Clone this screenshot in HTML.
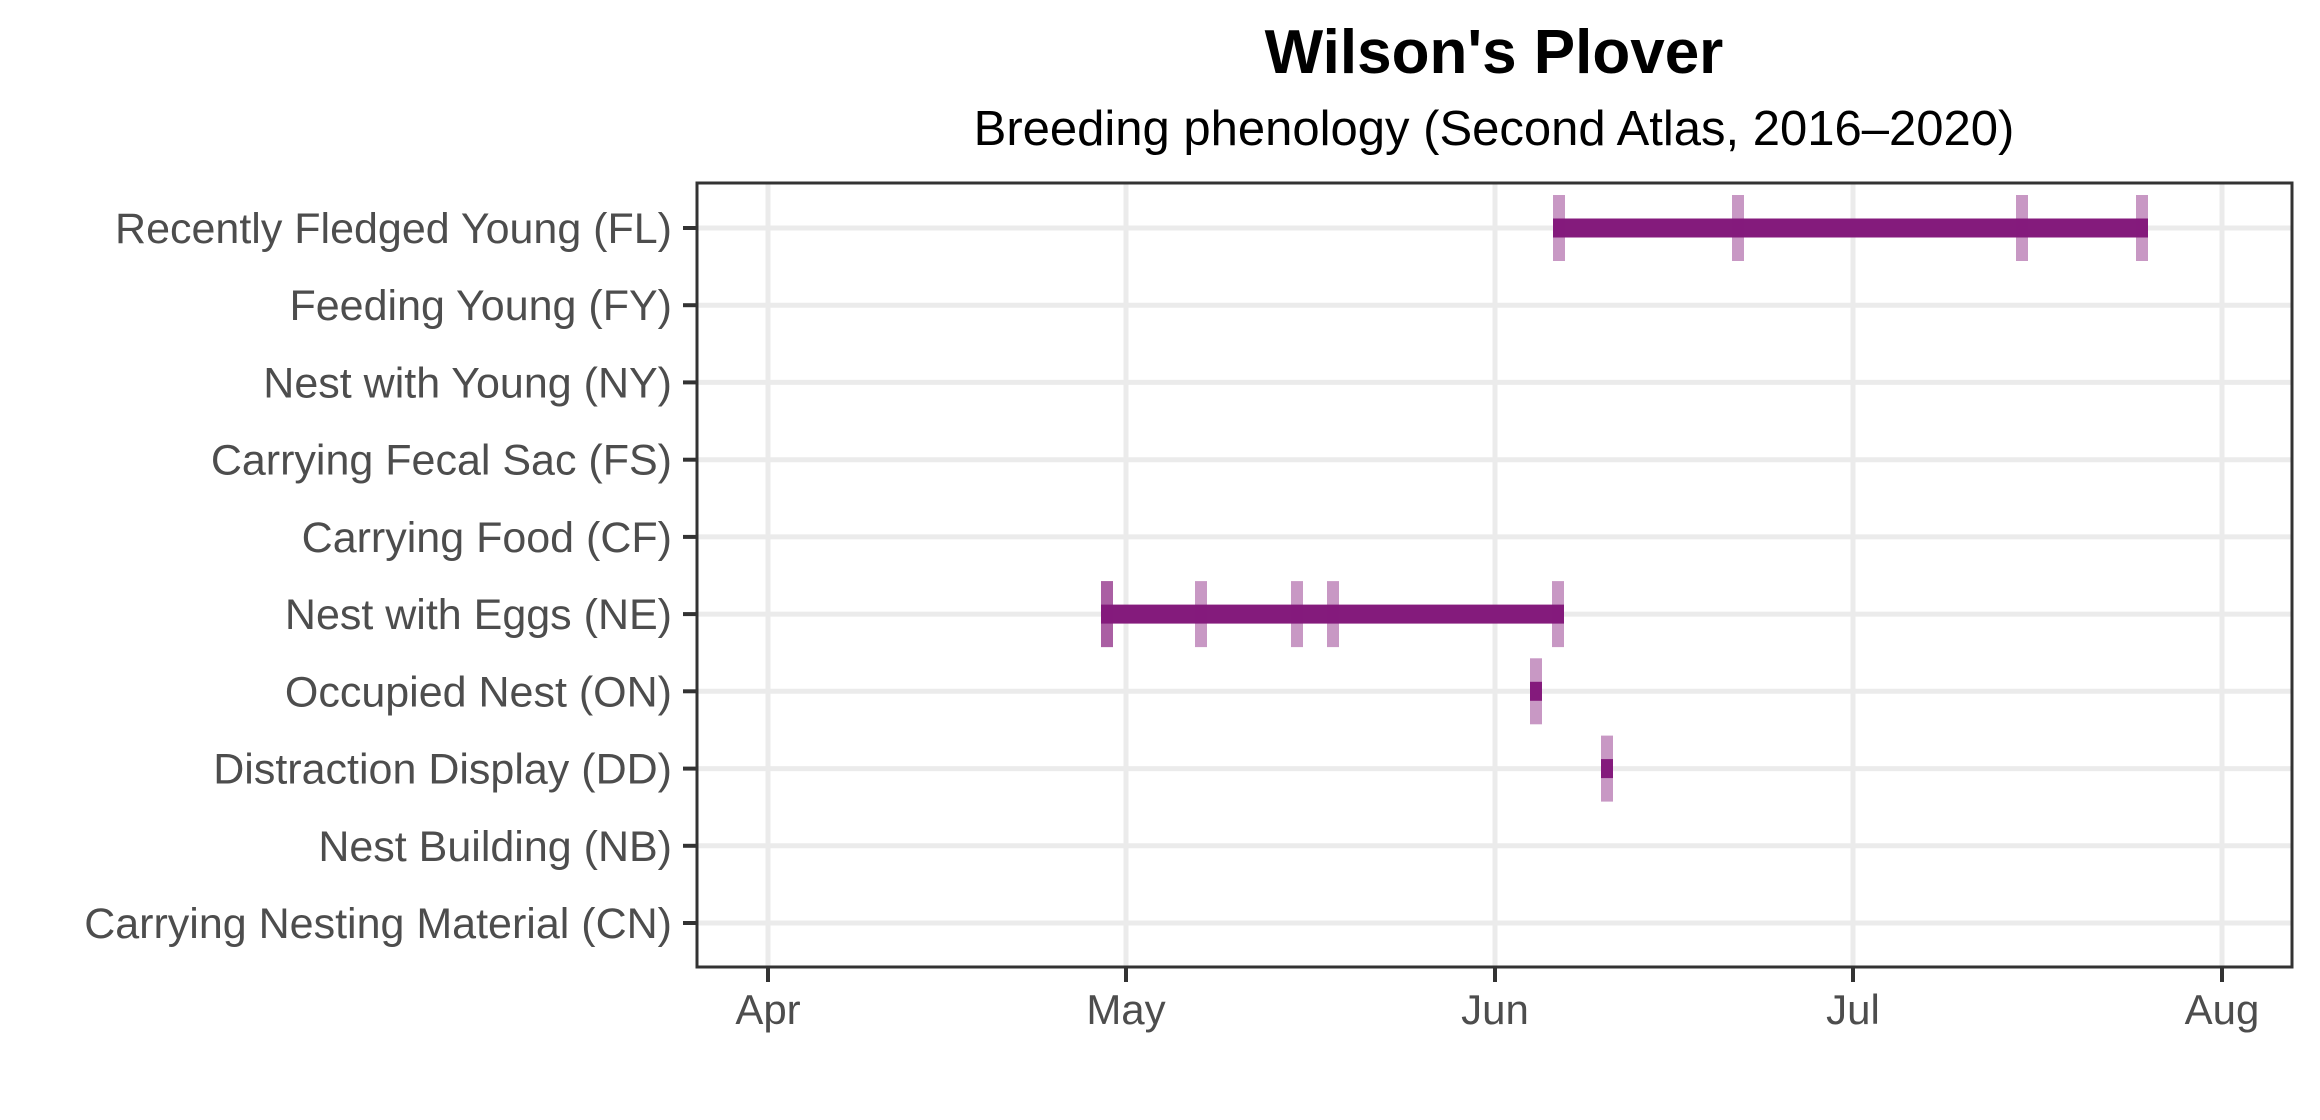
<!DOCTYPE html>
<html><head><meta charset="utf-8"><style>
html,body{margin:0;padding:0;background:#fff;}
svg{display:block;}
text{font-family:"Liberation Sans",Arial,sans-serif;}
</style></head><body>
<svg width="2320" height="1120" viewBox="0 0 2320 1120" xmlns="http://www.w3.org/2000/svg">
<rect width="2320" height="1120" fill="#fff"/>
<text x="1494" y="73" text-anchor="middle" font-size="62" font-weight="bold" fill="#000">Wilson's Plover</text>
<text x="1494" y="145" text-anchor="middle" font-size="49" fill="#000">Breeding phenology (Second Atlas, 2016–2020)</text>
<g stroke="#ebebeb" stroke-width="5">
<line x1="768" y1="183" x2="768" y2="967"/>
<line x1="1126" y1="183" x2="1126" y2="967"/>
<line x1="1495" y1="183" x2="1495" y2="967"/>
<line x1="1853" y1="183" x2="1853" y2="967"/>
<line x1="2222" y1="183" x2="2222" y2="967"/>
<line x1="697" y1="228" x2="2292" y2="228"/>
<line x1="697" y1="305.2" x2="2292" y2="305.2"/>
<line x1="697" y1="382.4" x2="2292" y2="382.4"/>
<line x1="697" y1="459.7" x2="2292" y2="459.7"/>
<line x1="697" y1="536.9" x2="2292" y2="536.9"/>
<line x1="697" y1="614.1" x2="2292" y2="614.1"/>
<line x1="697" y1="691.3" x2="2292" y2="691.3"/>
<line x1="697" y1="768.6" x2="2292" y2="768.6"/>
<line x1="697" y1="845.8" x2="2292" y2="845.8"/>
<line x1="697" y1="923" x2="2292" y2="923"/>
</g>
<!-- FL -->
<rect x="1553" y="218.5" width="595" height="19" fill="#841b7c"/>
<g fill="#841b7c" fill-opacity="0.45">
<rect x="1553" y="195" width="12" height="66"/>
<rect x="1732" y="195" width="12" height="66"/>
<rect x="2016" y="195" width="12" height="66"/>
<rect x="2136" y="195" width="12" height="66"/>
</g>
<!-- NE -->
<rect x="1101" y="604.6" width="463" height="19" fill="#841b7c"/>
<g fill="#841b7c" fill-opacity="0.45">
<rect x="1101" y="581.1" width="12" height="66"/>
<rect x="1101" y="581.1" width="12" height="66"/>
<rect x="1195" y="581.1" width="12" height="66"/>
<rect x="1291" y="581.1" width="12" height="66"/>
<rect x="1327" y="581.1" width="12" height="66"/>
<rect x="1552" y="581.1" width="12" height="66"/>
</g>
<!-- ON -->
<rect x="1530" y="681.8" width="12" height="19" fill="#841b7c"/>
<rect x="1530" y="658.3" width="12" height="66" fill="#841b7c" fill-opacity="0.45"/>
<!-- DD -->
<rect x="1601" y="759.1" width="12" height="19" fill="#841b7c"/>
<rect x="1601" y="735.6" width="12" height="66" fill="#841b7c" fill-opacity="0.45"/>
<rect x="697" y="183" width="1595" height="784" fill="none" stroke="#333" stroke-width="3"/>
<g stroke="#333" stroke-width="4">
<line x1="683" y1="228" x2="697" y2="228"/>
<line x1="683" y1="305.2" x2="697" y2="305.2"/>
<line x1="683" y1="382.4" x2="697" y2="382.4"/>
<line x1="683" y1="459.7" x2="697" y2="459.7"/>
<line x1="683" y1="536.9" x2="697" y2="536.9"/>
<line x1="683" y1="614.1" x2="697" y2="614.1"/>
<line x1="683" y1="691.3" x2="697" y2="691.3"/>
<line x1="683" y1="768.6" x2="697" y2="768.6"/>
<line x1="683" y1="845.8" x2="697" y2="845.8"/>
<line x1="683" y1="923" x2="697" y2="923"/>
<line x1="768" y1="967" x2="768" y2="982"/>
<line x1="1126" y1="967" x2="1126" y2="982"/>
<line x1="1495" y1="967" x2="1495" y2="982"/>
<line x1="1853" y1="967" x2="1853" y2="982"/>
<line x1="2222" y1="967" x2="2222" y2="982"/>
</g>
<g font-size="43" fill="#4d4d4d" text-anchor="end">
<text x="672" y="243">Recently Fledged Young (FL)</text>
<text x="672" y="320.2">Feeding Young (FY)</text>
<text x="672" y="397.4">Nest with Young (NY)</text>
<text x="672" y="474.7">Carrying Fecal Sac (FS)</text>
<text x="672" y="551.9">Carrying Food (CF)</text>
<text x="672" y="629.1">Nest with Eggs (NE)</text>
<text x="672" y="706.3">Occupied Nest (ON)</text>
<text x="672" y="783.6">Distraction Display (DD)</text>
<text x="672" y="860.8">Nest Building (NB)</text>
<text x="672" y="938">Carrying Nesting Material (CN)</text>
</g>
<g font-size="42" fill="#4d4d4d" text-anchor="middle">
<text x="768" y="1024">Apr</text>
<text x="1126" y="1024">May</text>
<text x="1495" y="1024">Jun</text>
<text x="1853" y="1024">Jul</text>
<text x="2222" y="1024">Aug</text>
</g>
</svg>
</body></html>
